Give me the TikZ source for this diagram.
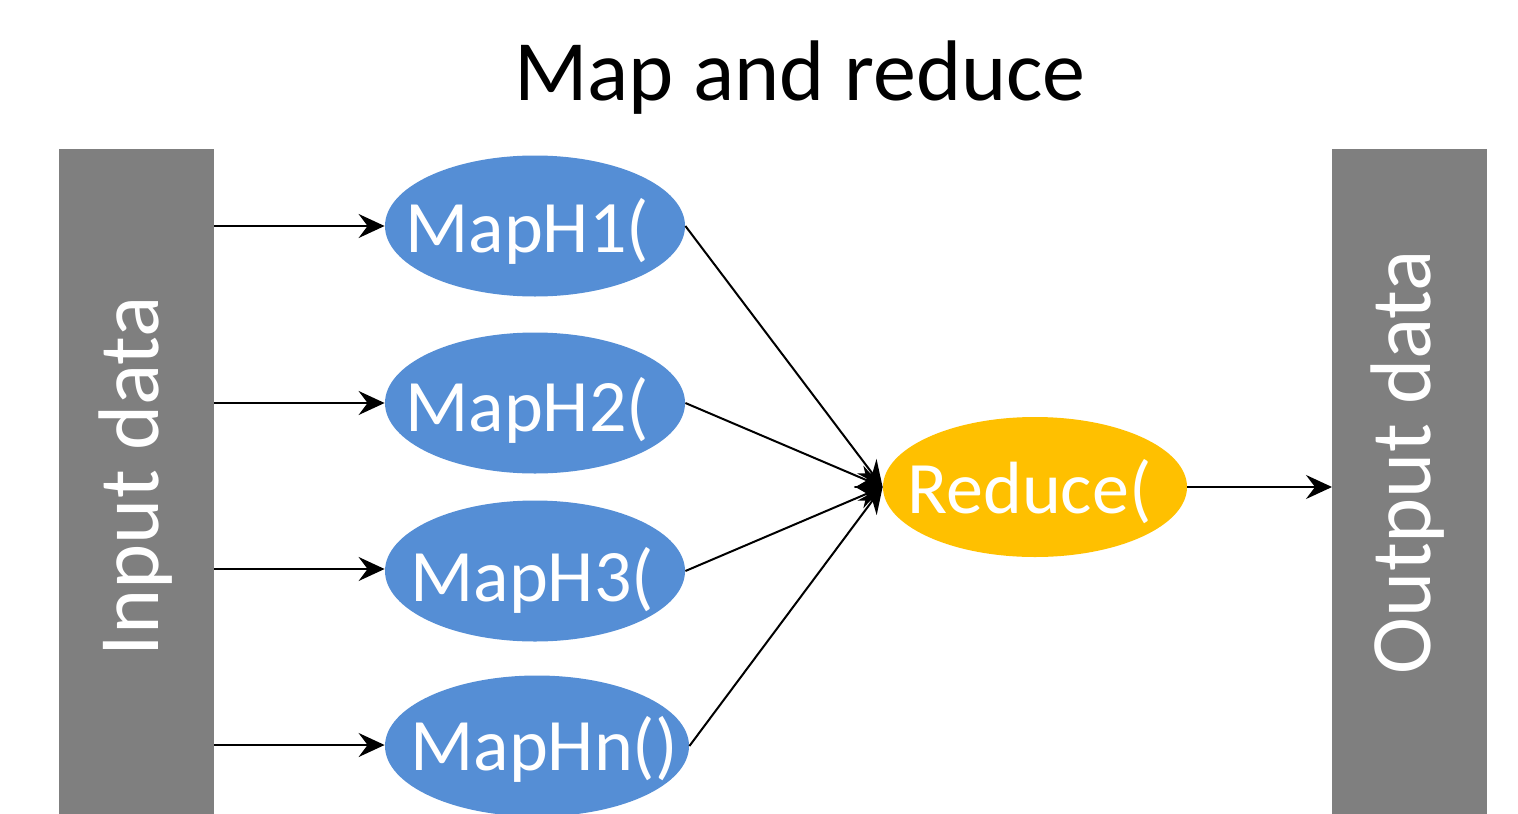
\documentclass[tikz,border=0pt]{standalone}
\usepackage{fontspec}
\setmainfont{Carlito}
\usetikzlibrary{shapes.geometric,arrows.meta}
\definecolor{mapblue}{HTML}{558ED5}
\definecolor{redgold}{HTML}{FFC000}
\definecolor{bargray}{HTML}{7F7F7F}
\tikzset{
  bigtext/.style={font=\fontsize{43}{50}\selectfont},
  databar/.style={fill=bargray, draw=none},
  mapnode/.style={ellipse, fill=mapblue, draw=none, minimum width=150pt, minimum height=70.5pt, inner sep=0pt},
  reducenode/.style={ellipse, fill=redgold, draw=none, minimum width=152pt, minimum height=70pt, inner sep=0pt},
  nodetext/.style={font=\fontsize{37}{44}\selectfont, text=white, inner sep=0pt, anchor=base west},
  flow/.style={draw=black, line width=1pt, -{Stealth[length=13pt, width=12pt, inset=4.5pt]}},
}
\begin{document}
\begin{tikzpicture}[x=0.5pt, y=-0.5pt]
  \useasboundingbox (0,0) rectangle (1518,813);
  \clip (0,0) rectangle (1518,813);

  % title
  \node[bigtext, anchor=base, inner sep=0pt] (title) at (800,100) {Map and reduce};

  % input and output bars
  \path[databar] (59,149) rectangle (214,830);
  \path[databar] (1332,149) rectangle (1487,830);
  \node[bigtext, text=white, rotate=90, anchor=base, inner sep=0pt] (inlabel) at (158,476) {Input data};
  \node[bigtext, text=white, rotate=90, anchor=base, inner sep=0pt] (outlabel) at (1430,462) {Output data};

  % entry points on the input bar, exit point on the output bar
  \coordinate (in1) at (214,226);
  \coordinate (in2) at (214,403);
  \coordinate (in3) at (214,569);
  \coordinate (in4) at (214,745);
  \coordinate (out) at (1332,487);

  % map stages
  \node[mapnode] (m1) at (535,226) {};
  \node[mapnode] (m2) at (535,403) {};
  \node[mapnode] (m3) at (535,571) {};
  \node[mapnode, minimum width=152pt] (m4) at (537,746) {};
  \node[nodetext] (t1) at (405,252) {MapH1(};
  \node[nodetext] (t2) at (405,431) {MapH2(};
  \node[nodetext] (t3) at (410,601) {MapH3(};
  \node[nodetext] (t4) at (410,770) {MapHn()};

  % reduce stage
  \node[reducenode] (r) at (1035,487) {};
  \node[nodetext] (tr) at (907,513) {Reduce(};

  % connectors
  \draw[flow] (in1) -- (in1 -| m1.west);
  \draw[flow] (in2) -- (in2 -| m2.west);
  \draw[flow] (in3) -- (in3 -| m3.west);
  \draw[flow] (in4) -- (in4 -| m4.west);
  \draw[flow] (m1.east) -- (r.west);
  \draw[flow] (m2.east) -- (r.west);
  \draw[flow] (m3.east) -- (r.west);
  \draw[flow] (m4.east) -- (r.west);
  \draw[flow] (r.east) -- (out);
\end{tikzpicture}
\end{document}
